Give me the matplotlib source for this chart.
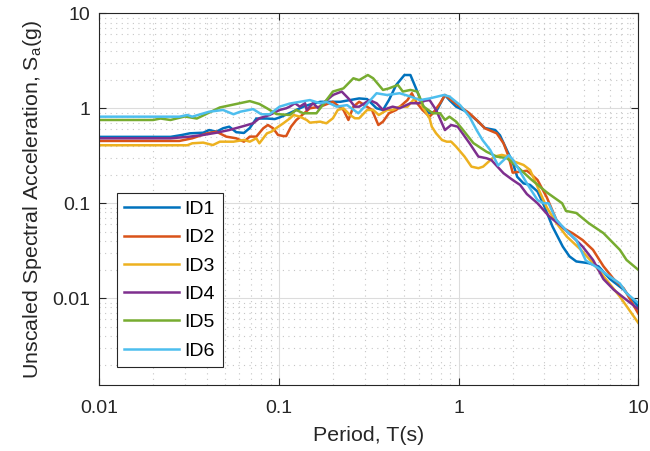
# Response spectra of the six ground motions (log-log)
import numpy as np
import matplotlib.pyplot as plt
from matplotlib.ticker import LogLocator, FuncFormatter, NullFormatter

plt.rcParams['font.family'] = ['Liberation Sans', 'DejaVu Sans']

# ---- data (period in s, Sa in g) ----
t_id1 = [0.01, 0.025, 0.029, 0.032, 0.038, 0.041, 0.045, 0.049, 0.053, 0.058, 0.064,
         0.069, 0.075, 0.086, 0.095, 0.101, 0.115, 0.137, 0.15, 0.17, 0.22, 0.28, 0.31,
         0.35, 0.38, 0.41, 0.45, 0.5, 0.54, 0.58, 0.63, 0.68, 0.75, 0.84, 0.89, 0.97,
         1.11, 1.26, 1.4, 1.6, 1.7, 1.86, 2.0, 2.12, 2.3, 2.5, 2.75, 2.98, 3.33, 3.8,
         4.14, 4.52, 5.3, 6.0, 6.97, 8.3, 10]
sa_id1 = [0.5, 0.5, 0.524, 0.545, 0.553, 0.59, 0.567, 0.616, 0.64, 0.56, 0.55,
          0.62, 0.78, 0.78, 0.77, 0.8, 0.89, 1.04, 1.1, 1.17, 1.17, 1.27, 1.25,
          1.0, 0.96, 1.22, 1.76, 2.24, 2.24, 1.62, 1.08, 0.886, 0.92, 1.38, 1.22, 1.04,
          0.92, 0.75, 0.62, 0.59, 0.52, 0.36, 0.27, 0.19, 0.162, 0.156, 0.133, 0.096, 0.057, 0.035,
          0.0276, 0.0244, 0.0234, 0.0217, 0.0159, 0.0123, 0.0082]

t_id2 = [0.01, 0.028, 0.033, 0.04, 0.045, 0.051, 0.058, 0.064, 0.069, 0.075, 0.082,
         0.087, 0.093, 0.099, 0.106, 0.11, 0.117, 0.125, 0.135, 0.149, 0.17, 0.2, 0.229,
         0.244, 0.26, 0.28, 0.3, 0.33, 0.358, 0.38, 0.41, 0.45, 0.52, 0.55, 0.58, 0.63,
         0.69, 0.72, 0.79, 0.84, 0.91, 1.02, 1.15, 1.29, 1.4, 1.63, 1.78, 1.9, 2.0, 2.2,
         2.4, 2.5, 2.75, 3.1, 3.5, 3.8, 4.3, 4.9, 5.6, 6.4, 7.3, 8.3, 10]
sa_id2 = [0.453, 0.453, 0.483, 0.545, 0.567, 0.503, 0.483, 0.445, 0.503, 0.503, 0.616,
          0.667, 0.616, 0.524, 0.51, 0.51, 0.64, 0.75, 0.85, 1.0, 1.04, 1.17, 0.96,
          0.753, 1.04, 1.17, 1.08, 0.96, 0.667, 0.723, 0.886, 0.96, 1.22, 1.44, 1.17, 0.96,
          0.816, 0.886, 1.13, 1.38, 1.22, 1.04, 0.886, 0.723, 0.616, 0.545, 0.428, 0.31, 0.21, 0.215,
          0.22, 0.207, 0.176, 0.115, 0.067, 0.055, 0.0485, 0.041, 0.0323, 0.0217, 0.0159, 0.0127, 0.0069]

t_id3 = [0.01, 0.031, 0.033, 0.038, 0.043, 0.047, 0.056, 0.064, 0.069, 0.075, 0.078,
         0.086, 0.091, 0.097, 0.106, 0.115, 0.121, 0.131, 0.143, 0.149, 0.17, 0.184, 0.2,
         0.213, 0.229, 0.249, 0.265, 0.28, 0.31, 0.335, 0.36, 0.4, 0.43, 0.47, 0.52, 0.56,
         0.6, 0.63, 0.69, 0.71, 0.75, 0.81, 0.86, 0.91, 0.97, 1.08, 1.18, 1.29, 1.37, 1.47,
         1.58, 1.74, 1.9, 2.05, 2.3, 2.5, 2.6, 2.8, 3.1, 3.5, 4.0, 4.8, 5.6, 6.6, 7.9, 10]
sa_id3 = [0.408, 0.408, 0.428, 0.435, 0.41, 0.445, 0.445, 0.464, 0.445, 0.483, 0.428,
          0.545, 0.567, 0.62, 0.695, 0.78, 0.85, 0.816, 0.753, 0.706, 0.723, 0.695, 0.785,
          0.96, 1.0, 0.85, 0.785, 0.785, 0.96, 0.96, 0.85, 0.96, 0.96, 1.04, 1.04, 1.22,
          1.27, 1.04, 0.785, 0.64, 0.545, 0.463, 0.445, 0.445, 0.394, 0.31, 0.243, 0.234, 0.243, 0.274,
          0.31, 0.323, 0.31, 0.274, 0.253, 0.224, 0.19, 0.138, 0.09, 0.062, 0.0446, 0.0323, 0.0234, 0.0159, 0.0104, 0.0055]

t_id4 = [0.01, 0.025, 0.032, 0.038, 0.045, 0.053, 0.064, 0.072, 0.078, 0.089, 0.101,
         0.11, 0.115, 0.123, 0.131, 0.14, 0.143, 0.155, 0.166, 0.177, 0.2, 0.224, 0.244,
         0.265, 0.28, 0.3, 0.32, 0.35, 0.38, 0.43, 0.47, 0.54, 0.6, 0.65, 0.69, 0.75,
         0.84, 0.91, 0.99, 1.15, 1.29, 1.43, 1.52, 1.78, 2.0, 2.2, 2.4, 2.75, 3.2, 3.77,
         4.3, 4.9, 5.6, 6.4, 7.3, 8.6, 10]
sa_id4 = [0.483, 0.483, 0.503, 0.524, 0.553, 0.59, 0.651, 0.695, 0.785, 0.85, 0.96,
          1.0, 1.04, 1.13, 1.04, 1.13, 0.96, 1.13, 1.0, 1.13, 1.38, 1.5, 1.27,
          1.04, 1.04, 1.13, 1.22, 1.13, 0.96, 1.04, 1.0, 1.13, 1.13, 1.2, 1.22, 0.96,
          0.59, 0.667, 0.64, 0.43, 0.31, 0.298, 0.286, 0.207, 0.176, 0.156, 0.125, 0.1, 0.0724, 0.0568,
          0.0446, 0.035, 0.0253, 0.0159, 0.0123, 0.0096, 0.0077]

t_id5 = [0.01, 0.02, 0.022, 0.025, 0.03, 0.035, 0.047, 0.058, 0.069, 0.078, 0.086,
         0.097, 0.115, 0.125, 0.137, 0.149, 0.162, 0.2, 0.229, 0.26, 0.28, 0.313, 0.335,
         0.38, 0.41, 0.46, 0.49, 0.54, 0.59, 0.64, 0.72, 0.79, 0.84, 0.89, 0.97, 1.06,
         1.21, 1.43, 1.63, 1.86, 2.12, 2.52, 3.1, 3.77, 3.96, 4.52, 5.3, 6.4, 7.9, 8.6, 10]
sa_id5 = [0.753, 0.753, 0.78, 0.753, 0.82, 0.78, 1.02, 1.11, 1.19, 1.11, 1.0,
          0.87, 0.85, 0.96, 0.886, 0.886, 0.886, 1.5, 1.62, 2.07, 1.98, 2.24, 2.07,
          1.56, 1.62, 1.76, 1.5, 1.56, 1.5, 1.04, 0.886, 0.886, 0.753, 0.816, 0.723, 0.59,
          0.43, 0.349, 0.31, 0.298, 0.243, 0.18, 0.13, 0.1, 0.083, 0.079, 0.0617, 0.0485, 0.0323, 0.0253, 0.0199]

t_id6 = [0.01, 0.028, 0.031, 0.033, 0.041, 0.049, 0.056, 0.061, 0.072, 0.08, 0.089,
         0.101, 0.115, 0.131, 0.149, 0.17, 0.184, 0.21, 0.24, 0.277, 0.3, 0.35, 0.4,
         0.47, 0.54, 0.61, 0.69, 0.83, 0.89, 1.02, 1.15, 1.26, 1.36, 1.5, 1.66, 1.9,
         2.0, 2.12, 2.4, 2.75, 2.98, 3.17, 3.5, 3.96, 4.52, 5.1, 6.0, 6.97, 7.9, 8.6, 10]
sa_id6 = [0.816, 0.816, 0.85, 0.816, 0.92, 0.96, 0.865, 0.92, 0.98, 0.865, 0.865,
          1.04, 1.12, 1.17, 1.22, 1.13, 1.17, 1.04, 1.08, 0.886, 1.04, 1.44, 1.38,
          1.44, 1.33, 1.22, 1.27, 1.38, 1.33, 1.08, 0.816, 0.59, 0.463, 0.364, 0.25, 0.32,
          0.29, 0.243, 0.162, 0.108, 0.1, 0.1, 0.067, 0.052, 0.041, 0.025, 0.0207, 0.0168, 0.0143, 0.0113, 0.0089]

labels = ['ID1', 'ID2', 'ID3', 'ID4', 'ID5', 'ID6']
colors = ['#0072BD', '#D95319', '#EDB120', '#7E2F8E', '#77AC30', '#4DBEEE']
periods = [t_id1, t_id2, t_id3, t_id4, t_id5, t_id6]
spectra = [sa_id1, sa_id2, sa_id3, sa_id4, sa_id5, sa_id6]

fig = plt.figure(figsize=(6.5, 4.51), dpi=100)
ax = fig.add_axes([0.1523, 0.1463, 0.8297, 0.8242])

for t, sa, c, lab in zip(periods, spectra, colors, labels):
    ax.plot(t, sa, color=c, lw=1.8, label=lab)

ax.set_xscale('log')
ax.set_yscale('log')
ax.set_xlim(0.01, 10)
ax.set_ylim(0.00122, 10)
ax.set_xticks([0.01, 0.1, 1, 10])
ax.set_yticks([0.01, 0.1, 1, 10])
fmt = FuncFormatter(lambda v, pos: '%g' % v)
ax.xaxis.set_major_formatter(fmt)
ax.yaxis.set_major_formatter(fmt)
for axis in (ax.xaxis, ax.yaxis):
    axis.set_minor_locator(LogLocator(base=10, subs=np.arange(2, 10)))
    axis.set_minor_formatter(NullFormatter())

ax.grid(which='major', color='#dcdcdc', lw=0.8, ls='-')
ax.grid(which='minor', color='#c6c6c6', lw=0.8, ls=(0, (1, 4)))
ax.set_axisbelow(True)

ax.tick_params(which='both', direction='in', top=True, right=True,
               colors='#262626', labelsize=14)
ax.tick_params(which='minor', length=0)
ax.tick_params(which='major', length=5, width=0.8)
ax.tick_params(axis='x', pad=11)
ax.tick_params(axis='y', pad=6)
for s in ax.spines.values():
    s.set_color('#262626')
    s.set_linewidth(0.8)

ax.set_xlabel('Period, T(s)', fontsize=15.4, color='#262626', labelpad=6)
ax.set_ylabel('Unscaled Spectral Acceleration, S$_\\mathregular{a}$(g)',
              fontsize=15.4, color='#262626', labelpad=6)

leg = ax.legend(loc='lower left', bbox_to_anchor=(0.0328, 0.0476), borderaxespad=0,
                fontsize=14, handlelength=2.8, handletextpad=0.3, labelspacing=0.55,
                borderpad=0.4, fancybox=False, edgecolor='#262626', framealpha=1)
leg.get_frame().set_linewidth(0.8)

plt.savefig('out.png', dpi=100)
